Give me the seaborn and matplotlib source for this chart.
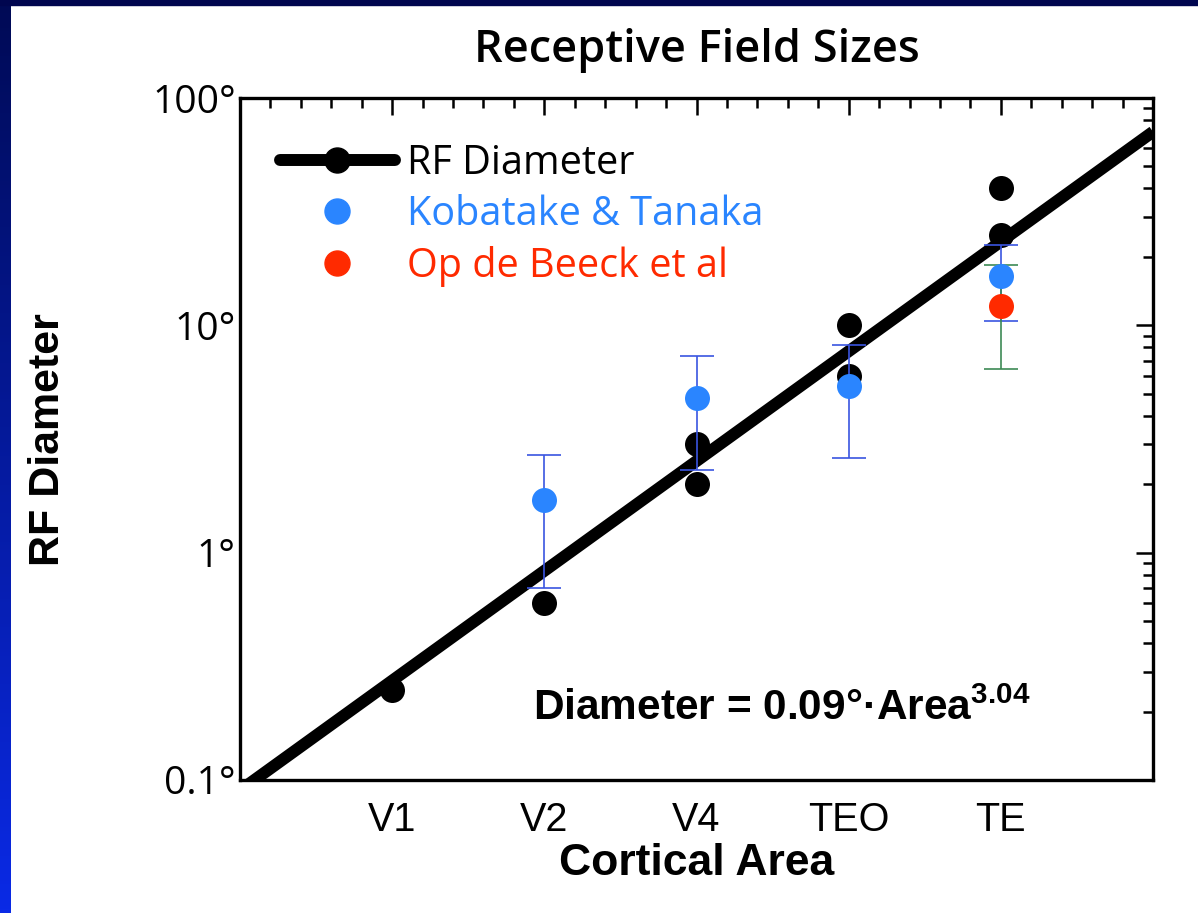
import numpy as np
import pandas as pd
import matplotlib
matplotlib.use("Agg")
import matplotlib.pyplot as plt
import seaborn as sns
from matplotlib.lines import Line2D
from matplotlib.ticker import FixedLocator, LogLocator, NullFormatter, FixedFormatter
from matplotlib.colors import LinearSegmentedColormap

# ---- data -------------------------------------------------------------
areas = ["V1", "V2", "V4", "TEO", "TE"]
area_pos = [1, 2, 3, 4, 5]

# RF diameter measurements (deg) per cortical area
rf_pos = [1, 2, 3, 3, 4, 4, 5, 5]
rf_diam = [0.25, 0.6, 3.0, 2.0, 10.0, 6.0, 40.0, 25.0]

# Kobatake & Tanaka: mean with lower / upper range
kt_pos = [2, 3, 4, 5]
kt_diam = [1.7, 4.8, 5.4, 16.5]
kt_lo = [0.7, 2.3, 2.6, 10.4]
kt_hi = [2.7, 7.3, 8.2, 22.6]

# Op de Beeck et al
odb_pos = [5]
odb_diam = [12.2]
odb_lo = [6.4]
odb_hi = [18.4]

# exponential fit: Diameter = 0.09 deg * 3.04 ** area
fit_coef = 0.09
fit_base = 3.04
fit_range = [0, 6]

ytick_vals = [0.1, 1, 10, 100]
ytick_labels = ["0.1°", "1°", "10°", "100°"]

BLUE = "#2a85ff"
RED = "#ff2a00"
ERR_BLUE = "#3a55e0"
ERR_GREEN = "#3d8a55"

# ---- style ------------------------------------------------------------
sns.set_theme(style="white")
plt.rcParams["font.family"] = ["Open Sans", "DejaVu Sans"]
plt.rcParams["mathtext.fontset"] = "custom"
plt.rcParams["mathtext.bf"] = "Liberation Sans:bold"
plt.rcParams["mathtext.rm"] = "Liberation Sans"
for key in ["text.color", "axes.labelcolor", "xtick.color", "ytick.color"]:
    plt.rcParams[key] = "black"

W, H = 1198, 913
fig = plt.figure(figsize=(W / 100, H / 100), dpi=100)
fig.patch.set_facecolor("white")

# blue slide frame: gradient strip on the left and dark band on top
strip = fig.add_axes([0, 0, 11 / W, 1])
grad = np.linspace(0, 1, 256).reshape(-1, 1)
cmap = LinearSegmentedColormap.from_list("frame", ["#000a55", "#0a2ae6"])
strip.imshow(grad, aspect="auto", cmap=cmap, extent=[0, 1, 0, 1])
strip.set_axis_off()
fig.patches.append(plt.Rectangle((0, 1 - 5 / H), 1, 5 / H, transform=fig.transFigure,
                                 color="#00064f", zorder=5))

ax = fig.add_axes([240 / W, 1 - 780 / H, 913 / W, 682 / H])
ax.set_facecolor("white")

# fit line
fit_df = pd.DataFrame({"area": fit_range,
                       "diam": [fit_coef * fit_base ** v for v in fit_range]})
sns.lineplot(data=fit_df, x="area", y="diam", color="black", linewidth=8.6,
             estimator=None, ax=ax, zorder=2, solid_capstyle="butt")

rf_df = pd.DataFrame({"area": rf_pos, "diam": rf_diam})
sns.scatterplot(data=rf_df, x="area", y="diam", color="black", s=324,
                linewidth=0, ax=ax, zorder=3)

kt = np.array(kt_diam)
ax.errorbar(kt_pos, kt_diam, yerr=[kt - np.array(kt_lo), np.array(kt_hi) - kt],
            fmt="none", ecolor=ERR_BLUE, elinewidth=1.2, capsize=12, capthick=1.2,
            zorder=4)
odb = np.array(odb_diam)
ax.errorbar(odb_pos, odb_diam, yerr=[odb - np.array(odb_lo), np.array(odb_hi) - odb],
            fmt="none", ecolor=ERR_GREEN, elinewidth=1.2, capsize=12, capthick=1.2,
            zorder=4)

kt_df = pd.DataFrame({"area": kt_pos, "diam": kt_diam})
sns.scatterplot(data=kt_df, x="area", y="diam", color=BLUE, s=324,
                linewidth=0, ax=ax, zorder=5)
odb_df = pd.DataFrame({"area": odb_pos, "diam": odb_diam})
sns.scatterplot(data=odb_df, x="area", y="diam", color=RED, s=324,
                linewidth=0, ax=ax, zorder=5)

# axes
ax.set_yscale("log")
ax.set_ylim(0.1, 100)
ax.set_xlim(0, 6)
ax.xaxis.set_major_locator(FixedLocator(area_pos))
ax.xaxis.set_major_formatter(FixedFormatter(areas))
ax.xaxis.set_minor_locator(FixedLocator(np.arange(0.2, 6, 0.2)))
ax.yaxis.set_major_locator(FixedLocator(ytick_vals))
ax.yaxis.set_major_formatter(FixedFormatter(ytick_labels))
ax.yaxis.set_minor_locator(LogLocator(base=10, subs=np.arange(2, 10)))
ax.yaxis.set_minor_formatter(NullFormatter())

for sp in ax.spines.values():
    sp.set_visible(True)
    sp.set_color("black")
    sp.set_linewidth(2.4)

ax.tick_params(which="both", direction="in", top=True, right=True, color="black",
               width=1.8)
ax.tick_params(which="major", length=12)
ax.tick_params(which="minor", length=7)
ax.tick_params(axis="y", which="major", labelsize=28, pad=3)
ax.tick_params(axis="x", which="major", pad=15)
for lab in ax.get_xticklabels():
    lab.set_fontfamily(["Liberation Sans Narrow", "Liberation Sans"])
    lab.set_fontsize(28.5)

ax.set_xlabel("Cortical Area", fontsize=32, fontweight="bold",
              fontfamily=["Liberation Sans Narrow", "Liberation Sans"])
ax.xaxis.set_label_coords(0.5, -0.093)
ax.set_ylabel("RF Diameter", fontsize=31, fontweight="bold",
              fontfamily=["Liberation Sans", "DejaVu Sans"])
ax.yaxis.set_label_coords(-0.188, 0.4985)

ax.set_title("Receptive Field Sizes", fontsize=32.5, pad=26, fontweight="semibold")

ax.text((533 - 240) / 913, (780 - 720) / 682, r"Diameter = 0.09°·Area$^{\mathbf{3.04}}$",
        transform=ax.transAxes, fontsize=30.5, fontweight="bold",
        fontfamily=["Liberation Sans", "DejaVu Sans"], va="baseline", ha="left")

handles = [
    Line2D([], [], color="black", lw=8.6, marker="o", ms=18),
    Line2D([], [], ls="none", marker="o", color=BLUE, ms=18),
    Line2D([], [], ls="none", marker="o", color=RED, ms=18),
]
ax.legend(handles, ["RF Diameter", "Kobatake & Tanaka", "Op de Beeck et al"],
          loc="upper left", bbox_to_anchor=((280 - 240) / 913, (780 - 143) / 682),
          frameon=False, fontsize=28.5, handlelength=2.9, handletextpad=0.3,
          labelspacing=0.28, borderpad=0, borderaxespad=0,
          labelcolor=["black", BLUE, RED])

fig.savefig("out.png", dpi=100)
